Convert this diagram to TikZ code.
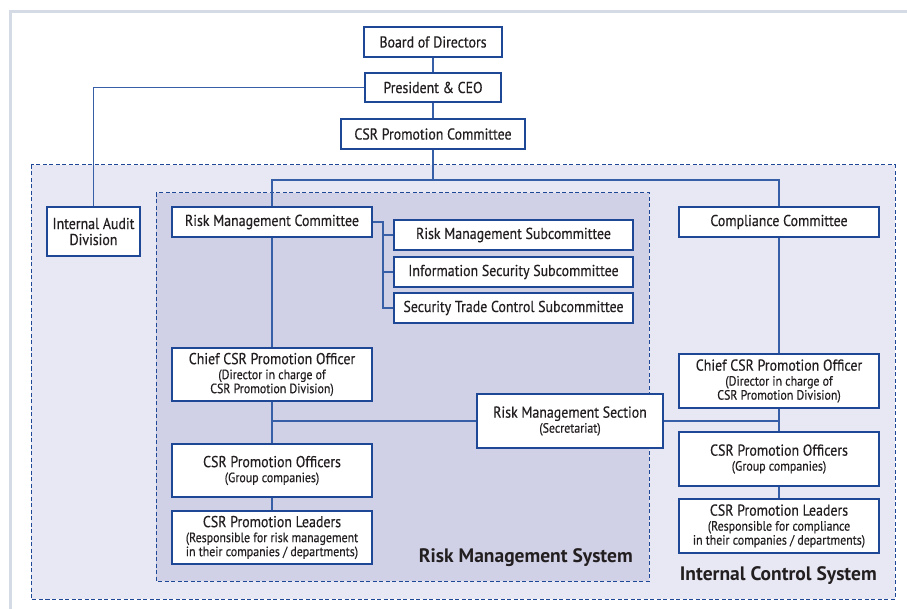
\documentclass[tikz,border=0pt]{standalone}
\usepackage{fontspec}
\setmainfont{PT Sans}[FakeStretch=0.88, FakeBold=0.4]
\newfontfamily\titlef{PT Sans}
\definecolor{boxline}{RGB}{30,72,150}
\definecolor{conn}{RGB}{55,95,168}
\definecolor{txt}{RGB}{35,31,32}
\definecolor{outerfill}{RGB}{232,232,244}
\definecolor{innerfill}{RGB}{208,208,230}
\definecolor{framegray}{RGB}{213,219,228}
\tikzset{
  obox/.style={draw=boxline, line width=1.2pt, fill=white, inner sep=0pt, align=center, text=txt, font=\fontsize{15.8}{17}\selectfont},
  cn/.style={draw=conn, line width=1.2pt},
  dashbox/.style={draw=boxline, line width=1pt, dash pattern=on 4pt off 2.5pt},
  systitle/.style={anchor=east, font=\titlef\bfseries\fontsize{19.5}{20}\selectfont, text=txt, inner sep=0pt},
}
\newcommand{\subt}[1]{{\fontsize{13.5}{14}\selectfont #1}}
\begin{document}
\begin{tikzpicture}[x=1pt,y=-1pt]
\useasboundingbox (0,0) rectangle (907,609);
\fill[white] (0,0) rectangle (907,609);
\draw[framegray, line width=3pt] (10,609) -- (10,12) -- (907,12);
% system areas
\path[dashbox, fill=outerfill] (31,165) rectangle (895,599);
\path[dashbox, fill=innerfill] (156,193) rectangle (649,581);
\node[systitle] (rmsys) at (633,558) {Risk Management System};
\node[systitle] (icsys) at (877,576) {Internal Control System};
% top nodes
\node[obox, minimum width=138pt, minimum height=30pt] (bod) at (433,42) {Board of Directors};
\node[obox, minimum width=136pt, minimum height=29pt] (ceo) at (433,87.5) {President \& CEO};
\node[obox, minimum width=184pt, minimum height=30pt] (csr) at (433,134) {CSR Promotion Committee};
\node[obox, minimum width=93pt, minimum height=49pt] (iad) at (93.5,231.5) {Internal Audit\\[-1pt]Division};
% risk management side
\node[obox, minimum width=200pt, minimum height=30pt] (rmc) at (272,222) {Risk Management Committee};
\node[obox, minimum width=239pt, minimum height=30pt] (rms) at (513.5,235) {Risk Management Subcommittee};
\node[obox, minimum width=239pt, minimum height=30pt] (iss) at (513.5,272) {Information Security Subcommittee};
\node[obox, minimum width=239pt, minimum height=30pt] (stc) at (513.5,308) {Security Trade Control Subcommittee};
\node[obox, minimum width=200pt, minimum height=53pt] (chiefL) at (272,374.5) {Chief CSR Promotion Officer\\[-2pt]\subt{(Director in charge of}\\[-3pt]\subt{CSR Promotion Division)}};
\node[obox, minimum width=200pt, minimum height=53pt] (offL) at (272,470.5) {CSR Promotion Officers\\[-2pt]\subt{(Group companies)}};
\node[obox, minimum width=200pt, minimum height=53pt] (leadL) at (272,537.5) {CSR Promotion Leaders\\[-2pt]\subt{(Responsible for risk management}\\[-3pt]\subt{in their companies / departments)}};
\node[obox, minimum width=186pt, minimum height=54pt] (rmsec) at (570,421) {Risk Management Section\\[-2pt]\subt{(Secretariat)}};
% compliance side
\node[obox, minimum width=200pt, minimum height=30pt] (cc) at (779,222) {Compliance Committee};
\node[obox, minimum width=200pt, minimum height=54pt] (chiefR) at (779,381) {Chief CSR Promotion Officer\\[-2pt]\subt{(Director in charge of}\\[-3pt]\subt{CSR Promotion Division)}};
\node[obox, minimum width=200pt, minimum height=54pt] (offR) at (779,459) {CSR Promotion Officers\\[-2pt]\subt{(Group companies)}};
\node[obox, minimum width=200pt, minimum height=54pt] (leadR) at (779,526) {CSR Promotion Leaders\\[-2pt]\subt{(Responsible for compliance}\\[-3pt]\subt{in their companies / departments)}};
% connectors
\coordinate (jtop) at (433,180);
\coordinate (jb) at (383,222);
\draw[cn] (bod.south) -- (ceo.north);
\draw[cn] (ceo.south) -- (csr.north);
\draw[cn] (ceo.west) -| (iad.north);
\draw[cn] (csr.south) -- (jtop);
\draw[cn] (rmc.north) |- (jtop) -| (cc.north);
\draw[cn] (rmc.east) -- (jb) |- (stc.west);
\draw[cn] (jb) |- (rms.west);
\draw[cn] (jb) |- (iss.west);
\draw[cn] (rmc.south) -- (chiefL.north);
\draw[cn] (chiefL.south) -- (offL.north);
\draw[cn] (offL.south) -- (leadL.north);
\draw[cn] (rmsec.west) -- (rmsec.west -| chiefL.south);
\draw[cn] (cc.south) -- (chiefR.north);
\draw[cn] (chiefR.south) -- (offR.north);
\draw[cn] (offR.south) -- (leadR.north);
\draw[cn] (rmsec.east) -- (rmsec.east -| chiefR.south);
\end{tikzpicture}
\end{document}
